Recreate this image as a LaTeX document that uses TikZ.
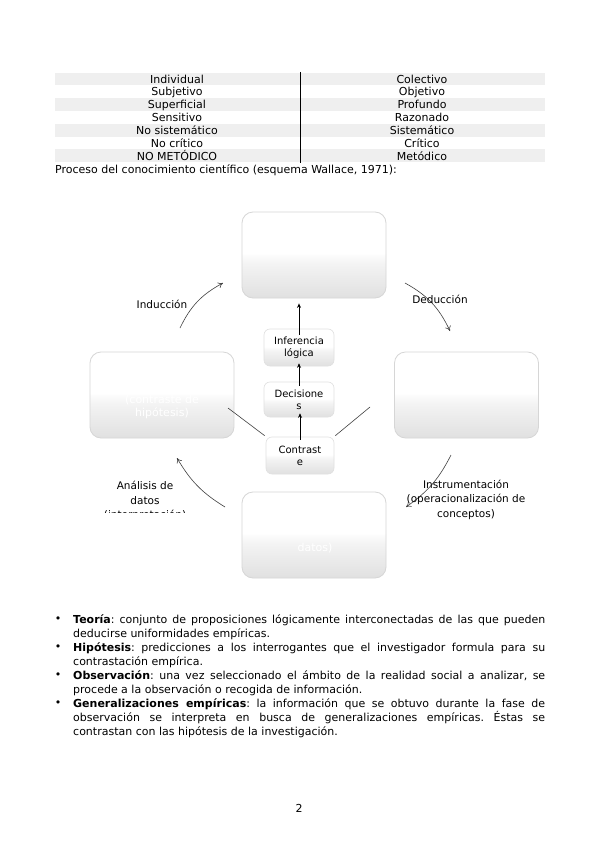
\documentclass[tikz,border=0pt]{standalone}
\usepackage{fontspec}
\setmainfont{DejaVu Sans}
\usetikzlibrary{arrows.meta}
\frenchspacing
\pgfdeclareverticalshading{boxsh}{100bp}{color(0bp)=(black!12); color(25bp)=(black!12); color(44bp)=(black!5); color(49bp)=(black!2); color(51bp)=(white); color(100bp)=(white)}
\definecolor{rowgray}{HTML}{EFEFEF}
\begin{document}
\begin{tikzpicture}[x=1pt,y=-1pt,
  txt/.style={font=\fontsize{11}{12.8}\selectfont, inner sep=0pt},
  lbl/.style={font=\fontsize{10.5}{14.5}\selectfont, inner sep=0pt, align=center},
  bigbox/.style={rounded corners=11pt, minimum width=144pt, minimum height=86pt, draw=black!16, line width=0.8pt, shade, shading=boxsh, inner sep=0pt},
  wtxt/.style={font=\fontsize{11}{12.5}\selectfont, text=white, inner sep=0pt, align=center},
  smallbox/.style={rounded corners=6pt, minimum width=70pt, minimum height=36pt, draw=black!12, line width=0.6pt, shade, shading=boxsh, inner sep=0pt, font=\fontsize{10}{12}\selectfont, align=center},
  cyc/.style={draw=black!75, line width=0.6pt, -{To[length=5pt,width=6pt]}},
  sarr/.style={draw=black, line width=0.8pt, -{Stealth[length=4.5pt,width=4pt]}},
  cline/.style={draw=black!75, line width=0.6pt},
  bodytxt/.style={font=\fontsize{11}{14}\selectfont\frenchspacing, inner sep=0pt, text width=472pt, align=justify, anchor=north west}
]
\useasboundingbox (0,0) rectangle (599,848);
\fill[white] (0,0) rectangle (599,848);

% ---- table ----
\foreach \i in {0,2,4,6} {
  \fill[rowgray] (55,{72.6+12.8*\i}) rectangle (545,{72.6+12.8*(\i+1)});
}
\draw[black, line width=0.6pt] (300,72) -- (300,163);
\foreach \i/\l/\r in {0/Individual/Colectivo,1/Subjetivo/Objetivo,2/Superficial/Profundo,3/Sensitivo/Razonado,4/No sistemático/Sistemático,5/No crítico/Crítico,6/NO METÓDICO/Metódico} {
  \node[txt, anchor=base] (tl\i) at (177,{83.2+12.8*\i}) {\l};
  \node[txt, anchor=base] (tr\i) at (422,{83.2+12.8*\i}) {\r};
}
\node[txt, anchor=base west] (cap) at (55,173.5) {Proceso del conocimiento científico (esquema Wallace, 1971):};

% ---- diagram ----
\node[bigbox] (teo) at (314,255) {};
\node[bigbox] (gen) at (162,395) {};
\node[bigbox] (hip) at (466.5,395) {};
\node[bigbox] (obs) at (314,535) {};
\node[wtxt] (gentxt) at (162,407) {(contraste de\\hipótesis)};
\node[wtxt] (obstxt) at (315,548) {datos)};

\node[smallbox, minimum height=37pt] (inf) at (299,347.5) {Inferencia\\lógica};
\node[smallbox, minimum height=35pt] (dec) at (299,399.5) {Decisione\\s};
\node[smallbox, minimum width=68pt, minimum height=37pt] (con) at (300,455.5) {Contrast\\e};

\draw[sarr] ([yshift=-6pt]inf.north) -- ([yshift=-5pt]inf.north |- teo.south);
\draw[sarr] ([yshift=-4pt]dec.north) -- ([yshift=3pt]dec.north |- inf.south);
\draw[sarr] ([yshift=-3pt]con.north) -- ([yshift=4pt]con.north |- dec.south);

\coordinate (gl) at (228,408);
\coordinate (hl) at (370,407);
\draw[cline] (gl) -- ([xshift=-1pt,yshift=1pt]con.north west);
\draw[cline] (hl) -- ([xshift=1pt,yshift=1pt]con.north east);

% cycle arrows
\coordinate (a1) at (180,328); \coordinate (a2) at (223,283);
\coordinate (b1) at (405,283); \coordinate (b2) at (450,331);
\coordinate (c1) at (451,455); \coordinate (c2) at (406,507);
\coordinate (d1) at (225,507); \coordinate (d2) at (177,458);
\draw[cyc] (a1) to[bend left=18] (a2);
\draw[cyc] (b1) to[bend left=18] (b2);
\draw[cyc] (c1) to[bend left=14] (c2);
\draw[cyc] (d1) to[bend left=14] (d2);

\node[lbl] (ind) at (162,304) {Inducción};
\node[lbl] (ded) at (440,299) {Deducción};
\node[lbl] (ins) at (466,499.5) {Instrumentación\\(operacionalización de\\conceptos)};
\begin{scope}
  \clip (80,470) rectangle (232,512.5);
  \node[lbl] (ana) at (145,501) {Análisis de\\datos\\(interpretación)};
\end{scope}

% ---- bullets ----
\foreach \y in {620,648,676,704} { \node[txt] at (58,\y) {•}; }
\node[bodytxt] (b1t) at (73,614.5) {\textbf{Teoría}: conjunto de proposiciones lógicamente interconectadas de las que pueden\linebreak deducirse uniformidades empíricas.};
\node[bodytxt] (b2t) at (73,642.5) {\textbf{Hipótesis}: predicciones a los interrogantes que el investigador formula para su\linebreak contrastación empírica.};
\node[bodytxt] (b3t) at (73,670.5) {\textbf{Observación}: una vez seleccionado el ámbito de la realidad social a analizar, se\linebreak procede a la observación o recogida de información.};
\node[bodytxt] (b4t) at (73,698.5) {\textbf{Generalizaciones empíricas}: la información que se obtuvo durante la fase de\linebreak observación se interpreta en busca de generalizaciones empíricas. Éstas se\linebreak contrastan con las hipótesis de la investigación.};

\node[txt] (pg) at (299,808) {2};
\end{tikzpicture}
\end{document}
